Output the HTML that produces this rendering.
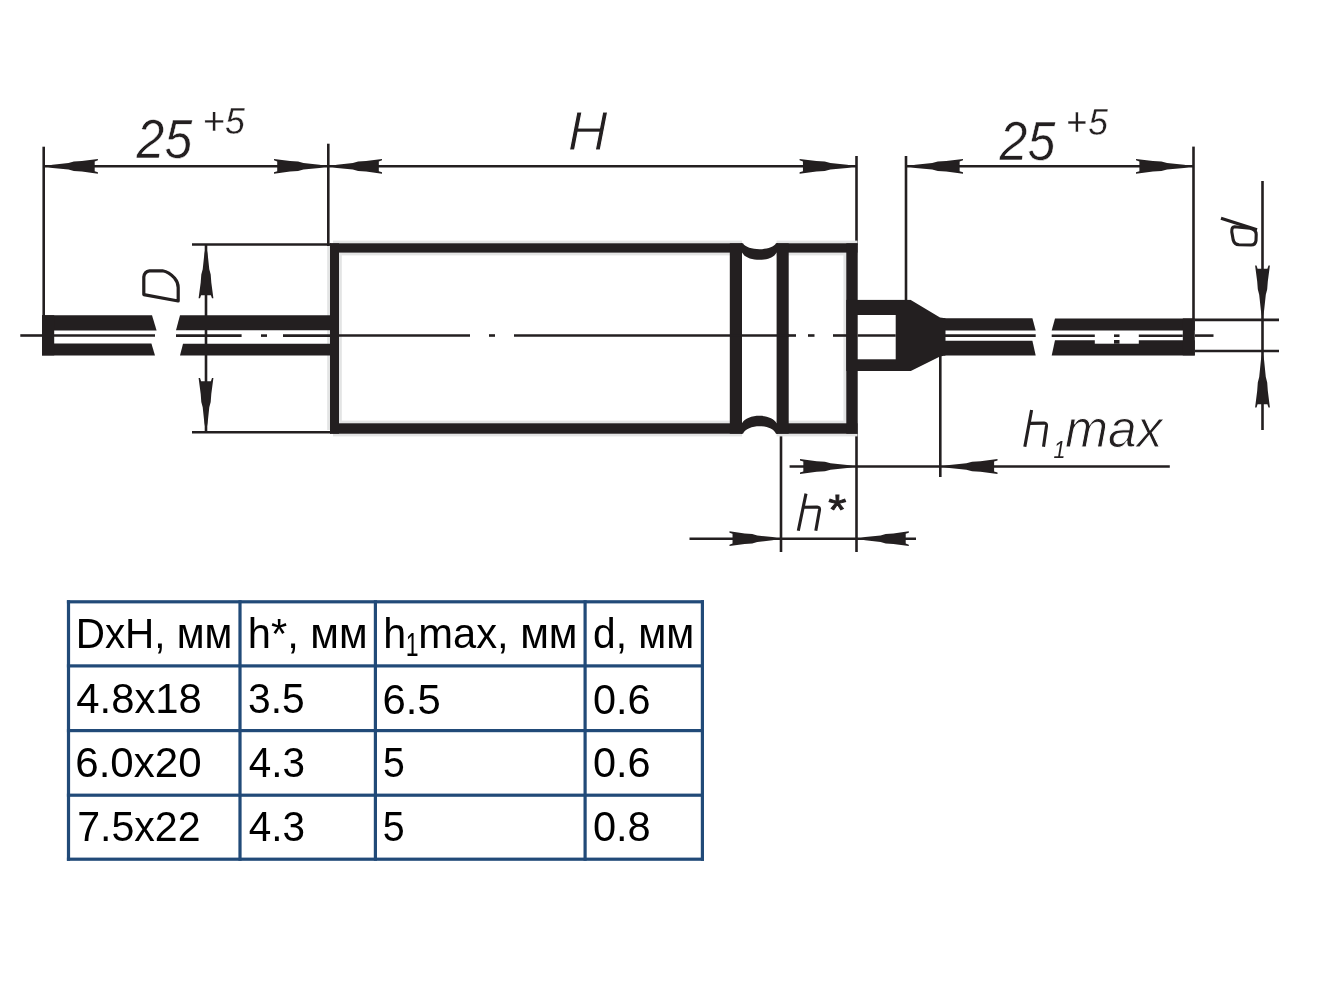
<!DOCTYPE html>
<html><head><meta charset="utf-8"><style>
html,body{margin:0;padding:0;background:#fff;}
body{width:1328px;height:995px;position:relative;overflow:hidden;}
svg{position:absolute;left:0;top:0;}
.tb{position:absolute;left:0;top:0;}
.c{position:absolute;font-family:"Liberation Sans",sans-serif;font-size:41px;color:#000;white-space:nowrap;line-height:1;}
</style></head><body>
<svg width="1328" height="995" viewBox="0 0 1328 995">
<g stroke="#231f20" fill="none" stroke-linecap="butt">
<line x1="43.7" y1="146.7" x2="43.7" y2="316" stroke-width="2.6"/>
<line x1="328.3" y1="143.7" x2="328.3" y2="246" stroke-width="2.6"/>
<line x1="856.5" y1="156" x2="856.5" y2="245" stroke-width="2.6"/>
<line x1="906" y1="156" x2="906" y2="301" stroke-width="2.6"/>
<line x1="1193.5" y1="146.6" x2="1193.5" y2="319" stroke-width="2.6"/>
<line x1="781" y1="433" x2="781" y2="552" stroke-width="2.6"/>
<line x1="856.5" y1="433" x2="856.5" y2="552" stroke-width="2.6"/>
<line x1="940.3" y1="356" x2="940.3" y2="477" stroke-width="2.6"/>
<line x1="192" y1="244.5" x2="331" y2="244.5" stroke-width="2.6"/>
<line x1="192" y1="432.3" x2="331" y2="432.3" stroke-width="2.6"/>
<line x1="1195" y1="319.9" x2="1279" y2="319.9" stroke-width="2.6"/>
<line x1="1195" y1="351" x2="1279" y2="351" stroke-width="2.6"/>
<line x1="43.7" y1="166.3" x2="856.5" y2="166.3" stroke-width="2.6"/>
<line x1="906" y1="166.3" x2="1193.5" y2="166.3" stroke-width="2.6"/>
<line x1="206" y1="244.5" x2="206" y2="432.3" stroke-width="2.6"/>
<line x1="1262.5" y1="181" x2="1262.5" y2="430" stroke-width="2.6"/>
<line x1="789.6" y1="466.5" x2="1169.8" y2="466.5" stroke-width="2.6"/>
<line x1="689.5" y1="538.7" x2="916" y2="538.7" stroke-width="2.6"/>
<polygon points="44.5,166.3 52.51,164.7 68.53,163.0 73.87,161.6 81.88,161.0 97.9,158.9 97.9,160.3 94.7,161.4 94.7,171.2 97.9,172.3 97.9,173.7 81.88,171.6 73.87,171.0 68.53,169.6 52.51,167.9" fill="#231f20" stroke="none"/>
<polygon points="327.5,166.3 319.48,164.7 303.43,163.0 298.07,161.6 290.05,161.0 274.0,158.9 274.0,160.3 277.21,161.4 277.21,171.2 274.0,172.3 274.0,173.7 290.05,171.6 298.07,171.0 303.43,169.6 319.48,167.9" fill="#231f20" stroke="none"/>
<polygon points="329,166.3 336.95,164.7 352.85,163.0 358.15,161.6 366.1,161.0 382.0,158.9 382.0,160.3 378.82,161.4 378.82,171.2 382.0,172.3 382.0,173.7 366.1,171.6 358.15,171.0 352.85,169.6 336.95,167.9" fill="#231f20" stroke="none"/>
<polygon points="855.5,166.3 847.12,164.7 830.35,163.0 824.75,161.6 816.37,161.0 799.6,158.9 799.6,160.3 802.95,161.4 802.95,171.2 799.6,172.3 799.6,173.7 816.37,171.6 824.75,171.0 830.35,169.6 847.12,167.9" fill="#231f20" stroke="none"/>
<polygon points="907,166.3 915.4,164.7 932.2,163.0 937.8,161.6 946.2,161.0 963.0,158.9 963.0,160.3 959.64,161.4 959.64,171.2 963.0,172.3 963.0,173.7 946.2,171.6 937.8,171.0 932.2,169.6 915.4,167.9" fill="#231f20" stroke="none"/>
<polygon points="1192.5,166.3 1184.03,164.7 1167.08,163.0 1161.42,161.6 1152.95,161.0 1136.0,158.9 1136.0,160.3 1139.39,161.4 1139.39,171.2 1136.0,172.3 1136.0,173.7 1152.95,171.6 1161.42,171.0 1167.08,169.6 1184.03,167.9" fill="#231f20" stroke="none"/>
<polygon points="206,245.5 204.4,253.42 202.7,269.26 201.3,274.54 200.7,282.46 198.6,298.3 200.0,298.3 201.1,295.13 210.9,295.13 212.0,298.3 213.4,298.3 211.3,282.46 210.7,274.54 209.3,269.26 207.6,253.42" fill="#231f20" stroke="none"/>
<polygon points="206,431.3 204.4,423.31 202.7,407.31 201.3,401.99 200.7,393.99 198.6,378.0 200.0,378.0 201.1,381.2 210.9,381.2 212.0,378.0 213.4,378.0 211.3,393.99 210.7,401.99 209.3,407.31 207.6,423.31" fill="#231f20" stroke="none"/>
<polygon points="1262.5,318.5 1260.9,310.55 1259.2,294.65 1257.8,289.35 1257.2,281.4 1255.1,265.5 1256.5,265.5 1257.6,268.68 1267.4,268.68 1268.5,265.5 1269.9,265.5 1267.8,281.4 1267.2,289.35 1265.8,294.65 1264.1,310.55" fill="#231f20" stroke="none"/>
<polygon points="1262.5,352 1260.9,360.32 1259.2,376.98 1257.8,382.52 1257.2,390.85 1255.1,407.5 1256.5,407.5 1257.6,404.17 1267.4,404.17 1268.5,407.5 1269.9,407.5 1267.8,390.85 1267.2,382.52 1265.8,376.98 1264.1,360.32" fill="#231f20" stroke="none"/>
<polygon points="855.5,466.5 847.17,464.9 830.52,463.2 824.98,461.8 816.65,461.2 800.0,459.1 800.0,460.5 803.33,461.6 803.33,471.4 800.0,472.5 800.0,473.9 816.65,471.8 824.98,471.2 830.52,469.8 847.17,468.1" fill="#231f20" stroke="none"/>
<polygon points="941,466.5 949.48,464.9 966.42,463.2 972.08,461.8 980.55,461.2 997.5,459.1 997.5,460.5 994.11,461.6 994.11,471.4 997.5,472.5 997.5,473.9 980.55,471.8 972.08,471.2 966.42,469.8 949.48,468.1" fill="#231f20" stroke="none"/>
<polygon points="780,538.7 772.42,537.1 757.27,535.4 752.23,534.0 744.65,533.4 729.5,531.3 729.5,532.7 732.53,533.8 732.53,543.6 729.5,544.7 729.5,546.1 744.65,544.0 752.23,543.4 757.27,542.0 772.42,540.3" fill="#231f20" stroke="none"/>
<polygon points="857.5,538.7 865.19,537.1 880.58,535.4 885.71,534.0 893.41,533.4 908.8,531.3 908.8,532.7 905.72,533.8 905.72,543.6 908.8,544.7 908.8,546.1 893.41,544.0 885.71,543.4 880.58,542.0 865.19,540.3" fill="#231f20" stroke="none"/>
<line x1="20.3" y1="335.5" x2="43" y2="335.5" stroke-width="2.6"/>
<line x1="1195" y1="335.6" x2="1213.5" y2="335.6" stroke-width="2.6"/>
<rect x="333" y="240.6" width="409" height="14.8" fill="#e3e4e4" stroke="none"/>
<rect x="776.6" y="240.6" width="80.9" height="14.8" fill="#e3e4e4" stroke="none"/>
<rect x="333" y="420.6" width="409" height="15.8" fill="#e3e4e4" stroke="none"/>
<rect x="776.6" y="420.6" width="80.9" height="15.8" fill="#e3e4e4" stroke="none"/>
<rect x="327.2" y="246" width="14.6" height="184" fill="#e3e4e4" stroke="none"/>
<rect x="843.4" y="254" width="6.6" height="176" fill="#e3e4e4" stroke="none"/>
<rect x="330" y="243.3" width="412" height="9.3" fill="#231f20" stroke="none"/>
<rect x="776.6" y="243.3" width="80.9" height="9.3" fill="#231f20" stroke="none"/>
<rect x="330" y="423.3" width="412" height="10.4" fill="#231f20" stroke="none"/>
<rect x="776.6" y="423.3" width="80.9" height="10.4" fill="#231f20" stroke="none"/>
<rect x="330" y="243.3" width="9" height="190.4" fill="#231f20" stroke="none"/>
<rect x="846.3" y="243.3" width="11.4" height="190.4" fill="#231f20" stroke="none"/>
<rect x="729.8" y="243.3" width="12.2" height="190.4" fill="#231f20" stroke="none"/>
<rect x="776.6" y="243.3" width="12.1" height="190.4" fill="#231f20" stroke="none"/>
<path d="M741,243.3 L743,243.3 C747,251.2 772,251.2 776,243.3 L778,243.3 L778,252.6 L776.6,252.6 C772,262.3 747,262.3 742,252.6 L741,252.6 Z" fill="#231f20" stroke="none"/>
<path d="M741,433.7 L743,433.7 C747,423.6 772,423.6 776,433.7 L778,433.7 L778,423.3 L776.6,423.3 C772,413.3 747,413.3 742,423.3 L741,423.3 Z" fill="#231f20" stroke="none"/>
<line x1="339" y1="335.5" x2="470" y2="335.5" stroke-width="2.6"/>
<line x1="489" y1="335.5" x2="495" y2="335.5" stroke-width="2.6"/>
<line x1="514" y1="335.5" x2="789" y2="335.5" stroke-width="2.6"/>
<line x1="788" y1="335.5" x2="796" y2="335.5" stroke-width="2.6"/>
<line x1="808" y1="335.5" x2="814.5" y2="335.5" stroke-width="2.6"/>
<line x1="833" y1="335.5" x2="847" y2="335.5" stroke-width="2.6"/>
<rect x="846.3" y="299.9" width="64.5" height="71.1" fill="#231f20" stroke="none"/>
<rect x="857.7" y="315" width="38.0" height="44.3" fill="#fff" stroke="none"/>
<line x1="857.7" y1="335.5" x2="895.7" y2="335.5" stroke-width="2.6"/>
<polygon points="909,299.9 910.8,299.9 940,317.5 945.5,318.3 945.5,355.5 940,356.5 910.8,371 909,371" fill="#231f20" stroke="none"/>
<polygon points="42,315.2 152,315.2 156.6,330.5 42,330.5" fill="#231f20" stroke="none"/>
<polygon points="42,343.5 151.4,343.5 155,355.4 42,355.4" fill="#231f20" stroke="none"/>
<rect x="42" y="315.2" width="12.2" height="40.2" fill="#231f20" stroke="none"/>
<line x1="54" y1="335.5" x2="155" y2="335.5" stroke-width="2.6"/>
<polygon points="180,315.2 331,315.2 331,330.3 176,330.3" fill="#231f20" stroke="none"/>
<polygon points="183,343.7 331,343.7 331,355.5 180,355.5" fill="#231f20" stroke="none"/>
<line x1="176" y1="335.6" x2="241.6" y2="335.6" stroke-width="2.6"/>
<line x1="261" y1="335.6" x2="267" y2="335.6" stroke-width="2.6"/>
<line x1="283" y1="335.6" x2="331" y2="335.6" stroke-width="2.6"/>
<polygon points="944,318.3 1032.4,318.3 1035.7,330.5 944,330.5" fill="#231f20" stroke="none"/>
<polygon points="944,340.8 1032.4,340.8 1035.7,355.4 944,355.4" fill="#231f20" stroke="none"/>
<line x1="944" y1="335.6" x2="1035.7" y2="335.6" stroke-width="2.6"/>
<polygon points="1055,318.4 1194.8,318.4 1194.8,330.5 1051.7,330.5" fill="#231f20" stroke="none"/>
<polygon points="1055,340.2 1194.8,340.2 1194.8,355.4 1051.7,355.4" fill="#231f20" stroke="none"/>
<rect x="1094.8" y="340.0" width="44.0" height="3.7" fill="#fff" stroke="none"/>
<rect x="1114" y="340" width="5.5" height="3.7" fill="#231f20" stroke="none"/>
<rect x="1182.8" y="318.4" width="12.0" height="37.0" fill="#231f20" stroke="none"/>
<line x1="1051.7" y1="335.7" x2="1094.8" y2="335.7" stroke-width="2.6"/>
<line x1="1114" y1="335.7" x2="1119.5" y2="335.7" stroke-width="2.6"/>
<line x1="1138.8" y1="335.7" x2="1182.8" y2="335.7" stroke-width="2.6"/>
<path d="M1031.6,410 L1024.8,446.8 M1029.2,423.4 L1044.2,423.1 Q1046.8,423.2 1046.5,426 L1043.5,446.8" stroke-width="3.1" stroke-linejoin="round"/>
<path d="M806,493.6 L798.3,530.8 M803.6,507.2 L817.2,507.0 Q819.8,507.1 819.5,510 L815.8,530.8" stroke-width="3.1" stroke-linejoin="round"/>
<path d="M143.8,294.6 L143.8,277 Q144.5,271.4 149.5,270.8 L162.5,270.8 Q169,272 174.5,278 Q178.2,282.5 178.2,287.5 L178.2,301 Z" stroke-width="3.2" stroke-linejoin="round"/>
<path d="M1221,218.2 L1257,229.8" stroke-width="3.1"/>
<path d="M1234.5,226.8 L1250,228.2 Q1256.2,229.4 1256.2,234.5 L1256,240.5 Q1255.5,245 1251,245 L1239,244.8 Q1234.5,244.5 1233.2,240 L1231.8,232 Q1231.5,227 1234.5,226.8 Z" stroke-width="3.1"/>
</g>
<g fill="#231f20" stroke="#fff" stroke-width="0.4" font-family="Liberation Sans, sans-serif" font-style="italic" style="will-change:transform">
<text x="0" y="0" font-size="56.4" stroke-width="0.5" transform="translate(136.6,158.4)  scale(0.886,1)" text-anchor="start">25</text>
<text x="0" y="0" font-size="39.2" stroke-width="0.3" transform="translate(202.6,134.0)  scale(0.969,1)" text-anchor="start">+</text>
<text x="0" y="0" font-size="37.3" stroke-width="0.3" transform="translate(225.0,133.6)  scale(0.958,1)" text-anchor="start">5</text>
<text x="0" y="0" font-size="54.9" stroke-width="1.1" transform="translate(567.8,150.0)  scale(1.006,1)" text-anchor="start">H</text>
<text x="0" y="0" font-size="54.9" stroke-width="0.5" transform="translate(999.6,160.0)  scale(0.912,1)" text-anchor="start">25</text>
<text x="0" y="0" font-size="40.9" stroke-width="0.3" transform="translate(1065.7,136.1)  scale(0.888,1)" text-anchor="start">+</text>
<text x="0" y="0" font-size="37.1" stroke-width="0.3" transform="translate(1088.2,135.4)  scale(0.954,1)" text-anchor="start">5</text>
<text x="0" y="0" font-size="24.1" stroke="none" transform="translate(1053.5,457.6)  scale(0.891,1)" text-anchor="start">1</text>
<text x="0" y="0" font-size="54.1" stroke-width="1.0" transform="translate(1064.9,447.2)  scale(0.955,1)" text-anchor="start">max</text>
<text x="0" y="0" font-size="43.3" stroke="#231f20" stroke-width="0.9" transform="translate(826.2,524.0)  scale(1.08,1)" text-anchor="start">*</text>
</g>
</svg>
<svg width="1328" height="995" viewBox="0 0 1328 995" style="position:absolute;left:0;top:0"><g><rect x="66.9" y="600.1999999999999" width="3.2" height="260.6" fill="#214a78"/><rect x="238.4" y="600.1999999999999" width="3.2" height="260.6" fill="#214a78"/><rect x="373.79999999999995" y="600.1999999999999" width="3.2" height="260.6" fill="#214a78"/><rect x="583.5" y="600.1999999999999" width="3.2" height="260.6" fill="#214a78"/><rect x="700.8" y="600.1999999999999" width="3.2" height="260.6" fill="#214a78"/><rect x="66.9" y="600.1999999999999" width="637.1" height="3.2" fill="#214a78"/><rect x="66.9" y="664.3" width="637.1" height="3.2" fill="#214a78"/><rect x="66.9" y="729.0" width="637.1" height="3.2" fill="#214a78"/><rect x="66.9" y="793.6" width="637.1" height="3.2" fill="#214a78"/><rect x="66.9" y="857.6" width="637.1" height="3.2" fill="#214a78"/></g><g fill="#000" font-family="Liberation Sans, sans-serif" style="will-change:transform"><text x="0" y="0" font-size="42.4" transform="translate(75.7,647.9) scale(0.954,1)">DxH, мм</text>
<text x="0" y="0" font-size="42.4" transform="translate(247.8,648) scale(0.982,1)">h*, мм</text>
<text x="0" y="0" font-size="42.4" transform="translate(383.2,648) scale(0.971,1)">h</text>
<text x="0" y="0" font-size="34.0" transform="translate(405.7,656.3) scale(0.679,1)">1</text>
<text x="0" y="0" font-size="42.4" transform="translate(418.2,648) scale(0.984,1)">max, мм</text>
<text x="0" y="0" font-size="42.4" transform="translate(593.1,648) scale(0.96,1)">d, мм</text>
<text x="0" y="0" font-size="43.0" transform="translate(76.3,713.2) scale(0.973,1)">4.8x18</text>
<text x="0" y="0" font-size="43.0" transform="translate(248.1,713.4) scale(0.948,1)">3.5</text>
<text x="0" y="0" font-size="43.0" transform="translate(382.5,713.6) scale(0.973,1)">6.5</text>
<text x="0" y="0" font-size="43.0" transform="translate(592.9,713.5) scale(0.963,1)">0.6</text>
<text x="0" y="0" font-size="43.0" transform="translate(75.3,777.4) scale(0.978,1)">6.0x20</text>
<text x="0" y="0" font-size="43.0" transform="translate(248.7,777.4) scale(0.941,1)">4.3</text>
<text x="0" y="0" font-size="43.0" transform="translate(382.9,777.4) scale(0.912,1)">5</text>
<text x="0" y="0" font-size="43.0" transform="translate(592.9,777.4) scale(0.963,1)">0.6</text>
<text x="0" y="0" font-size="43.0" transform="translate(77.2,841.4) scale(0.956,1)">7.5x22</text>
<text x="0" y="0" font-size="43.0" transform="translate(248.7,841.4) scale(0.942,1)">4.3</text>
<text x="0" y="0" font-size="43.0" transform="translate(382.8,841.4) scale(0.916,1)">5</text>
<text x="0" y="0" font-size="43.0" transform="translate(592.9,841.4) scale(0.967,1)">0.8</text></g></svg>
</body></html>
